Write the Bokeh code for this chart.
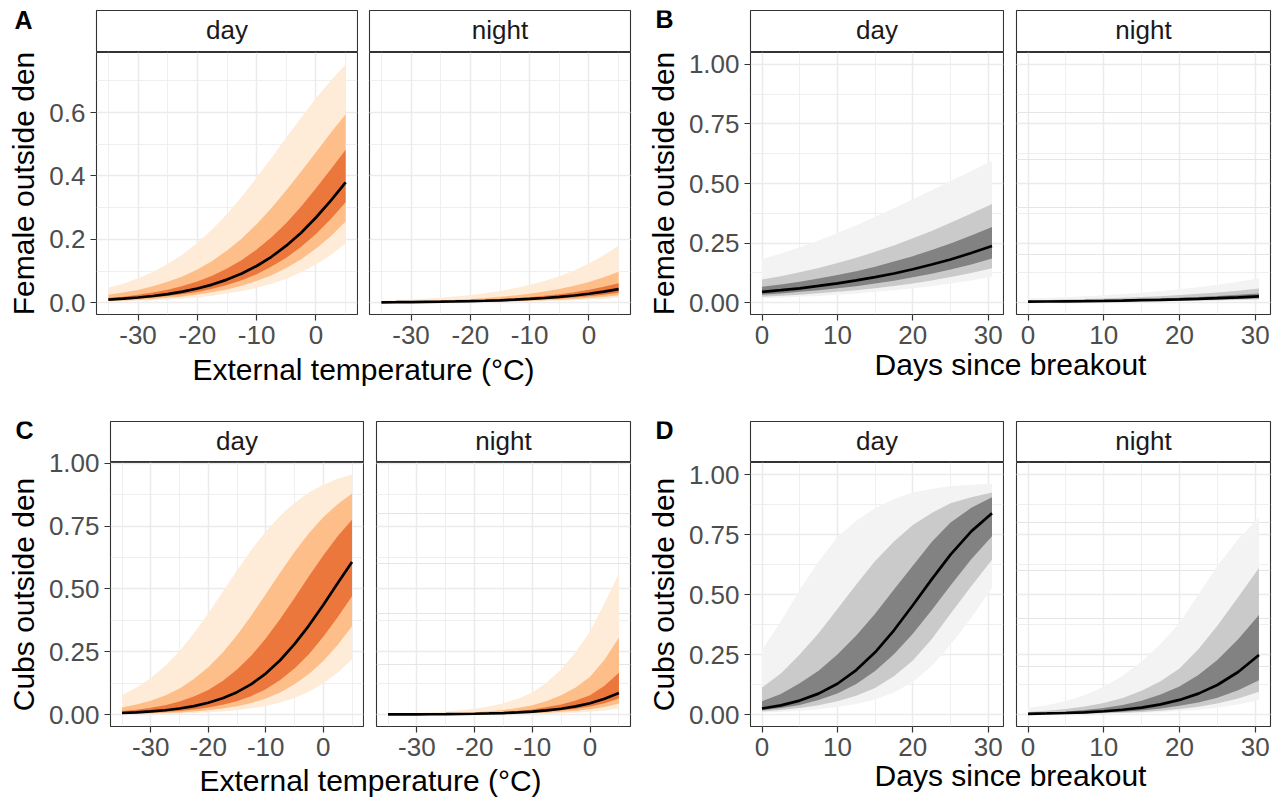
from bokeh.plotting import figure
from bokeh.models import Range1d, FixedTicker, PrintfTickFormatter, Label, Grid
from bokeh.layouts import row, column
from bokeh.embed import file_html
from bokeh.resources import INLINE

# ---------------- data ----------------
temp = [-35, -32.5, -30, -27.5, -25, -22.5, -20, -17.5, -15, -12.5, -10, -7.5, -5, -2.5, 0, 2.5, 5]
days = [0, 2.5, 5, 7.5, 10, 12.5, 15, 17.5, 20, 22.5, 25, 27.75, 30.5]

# Panel A : female, external temperature
A_day_hi95 = [0.047, 0.060, 0.077, 0.097, 0.122, 0.152, 0.189, 0.231, 0.280, 0.335, 0.394, 0.457, 0.521, 0.584, 0.645, 0.701, 0.752]
A_day_hi80 = [0.025, 0.032, 0.040, 0.052, 0.066, 0.083, 0.105, 0.132, 0.165, 0.203, 0.248, 0.299, 0.355, 0.414, 0.475, 0.536, 0.595]
A_day_hi50 = [0.015, 0.019, 0.025, 0.032, 0.041, 0.053, 0.067, 0.085, 0.108, 0.135, 0.168, 0.207, 0.252, 0.304, 0.361, 0.421, 0.483]
A_day_mean = [0.010, 0.0128, 0.0165, 0.0213, 0.027, 0.0351, 0.045, 0.0573, 0.073, 0.0922, 0.116, 0.145, 0.180, 0.221, 0.269, 0.322, 0.380]
A_day_lo50 = [0.0075, 0.0097, 0.0126, 0.0162, 0.021, 0.0267, 0.034, 0.0439, 0.056, 0.0713, 0.090, 0.114, 0.142, 0.177, 0.217, 0.264, 0.317]
A_day_lo80 = [0.0056, 0.0072, 0.0093, 0.012, 0.0155, 0.020, 0.026, 0.033, 0.042, 0.054, 0.069, 0.087, 0.110, 0.137, 0.171, 0.210, 0.256]
A_day_lo95 = [0.0038, 0.0049, 0.0063, 0.0081, 0.0104, 0.0135, 0.017, 0.022, 0.029, 0.037, 0.047, 0.060, 0.076, 0.096, 0.121, 0.151, 0.187]

A_night_hi95 = [0.0067, 0.0083, 0.0103, 0.0128, 0.0158, 0.0196, 0.0243, 0.030, 0.037, 0.0455, 0.056, 0.0686, 0.084, 0.102, 0.124, 0.150, 0.180]
A_night_hi80 = [0.0033, 0.0041, 0.0051, 0.0064, 0.0079, 0.0098, 0.0122, 0.0151, 0.0187, 0.0231, 0.0286, 0.0353, 0.0435, 0.0535, 0.0657, 0.0804, 0.098]
A_night_hi50 = [0.0020, 0.0025, 0.0031, 0.0039, 0.0048, 0.0060, 0.0074, 0.0092, 0.0114, 0.0142, 0.0175, 0.0217, 0.0269, 0.0332, 0.0409, 0.0503, 0.0618]
A_night_mean = [0.0014, 0.0017, 0.0021, 0.0027, 0.0033, 0.0041, 0.0051, 0.0063, 0.0078, 0.0097, 0.0121, 0.0150, 0.0185, 0.0229, 0.0283, 0.0350, 0.0431]
A_night_lo50 = [0.0010, 0.0012, 0.0015, 0.0019, 0.0024, 0.0030, 0.0037, 0.0046, 0.0056, 0.0070, 0.0087, 0.0108, 0.0134, 0.0166, 0.0205, 0.0254, 0.0314]
A_night_lo80 = [0.0007, 0.0009, 0.0011, 0.0014, 0.0017, 0.0021, 0.0027, 0.0033, 0.0041, 0.0051, 0.0063, 0.0079, 0.0098, 0.0121, 0.0150, 0.0186, 0.0230]
A_night_lo95 = [0.0005, 0.0006, 0.0008, 0.0010, 0.0012, 0.0015, 0.0018, 0.0022, 0.0028, 0.0035, 0.0043, 0.0053, 0.0066, 0.0082, 0.0101, 0.0125, 0.0155]

# Panel B : female, days since breakout
B_day_hi95 = [0.182, 0.206, 0.232, 0.261, 0.292, 0.325, 0.360, 0.396, 0.434, 0.472, 0.511, 0.553, 0.595]
B_day_hi80 = [0.097, 0.111, 0.127, 0.145, 0.166, 0.188, 0.213, 0.240, 0.270, 0.301, 0.335, 0.374, 0.414]
B_day_hi50 = [0.066, 0.076, 0.088, 0.101, 0.116, 0.132, 0.151, 0.172, 0.195, 0.221, 0.248, 0.282, 0.317]
B_day_mean = [0.045, 0.052, 0.060, 0.070, 0.081, 0.093, 0.107, 0.122, 0.140, 0.160, 0.181, 0.208, 0.238]
B_day_lo50 = [0.033, 0.038, 0.045, 0.052, 0.060, 0.069, 0.080, 0.092, 0.106, 0.121, 0.139, 0.160, 0.185]
B_day_lo80 = [0.025, 0.029, 0.033, 0.039, 0.045, 0.052, 0.060, 0.070, 0.080, 0.093, 0.107, 0.124, 0.144]
B_day_lo95 = [0.018, 0.021, 0.025, 0.028, 0.033, 0.038, 0.045, 0.052, 0.060, 0.069, 0.080, 0.093, 0.109]

B_night_hi95 = [0.0168, 0.0196, 0.0228, 0.0265, 0.0308, 0.0358, 0.0416, 0.0482, 0.0559, 0.0647, 0.0748, 0.0875, 0.102]
B_night_hi80 = [0.0093, 0.0108, 0.0126, 0.0147, 0.0172, 0.0200, 0.0233, 0.0271, 0.0315, 0.0366, 0.0425, 0.0500, 0.0588]
B_night_hi50 = [0.0059, 0.0069, 0.0081, 0.0094, 0.0110, 0.0128, 0.0150, 0.0175, 0.0203, 0.0236, 0.0275, 0.0325, 0.0383]
B_night_mean = [0.0040, 0.0046, 0.0054, 0.0063, 0.0074, 0.0086, 0.0101, 0.0118, 0.0137, 0.0160, 0.0186, 0.0220, 0.0260]
B_night_lo50 = [0.0028, 0.0033, 0.0038, 0.0044, 0.0052, 0.0061, 0.0071, 0.0083, 0.0097, 0.0113, 0.0132, 0.0156, 0.0185]
B_night_lo80 = [0.0021, 0.0024, 0.0028, 0.0033, 0.0039, 0.0045, 0.0053, 0.0062, 0.0072, 0.0084, 0.0098, 0.0116, 0.0138]
B_night_lo95 = [0.0015, 0.0018, 0.0021, 0.0025, 0.0029, 0.0034, 0.0039, 0.0045, 0.0053, 0.0062, 0.0073, 0.0086, 0.0102]

# Panel C : cubs, external temperature
C_day_hi95 = [0.078, 0.107, 0.145, 0.193, 0.252, 0.323, 0.402, 0.487, 0.573, 0.655, 0.728, 0.791, 0.842, 0.883, 0.914, 0.938, 0.955]
C_day_hi80 = [0.028, 0.040, 0.055, 0.076, 0.104, 0.141, 0.188, 0.246, 0.315, 0.394, 0.479, 0.564, 0.647, 0.721, 0.785, 0.837, 0.879]
C_day_hi50 = [0.0136, 0.019, 0.0267, 0.037, 0.052, 0.072, 0.098, 0.133, 0.179, 0.235, 0.302, 0.380, 0.464, 0.550, 0.633, 0.709, 0.775]
C_day_mean = [0.0061, 0.0087, 0.0122, 0.0171, 0.024, 0.0335, 0.047, 0.0647, 0.089, 0.121, 0.163, 0.216, 0.280, 0.354, 0.436, 0.522, 0.607]
C_day_lo50 = [0.0036, 0.0050, 0.0071, 0.0099, 0.014, 0.0196, 0.0275, 0.0384, 0.053, 0.0737, 0.101, 0.137, 0.183, 0.240, 0.309, 0.387, 0.471]
C_day_lo80 = [0.0022, 0.0031, 0.0043, 0.0061, 0.0085, 0.012, 0.0169, 0.0236, 0.033, 0.046, 0.064, 0.088, 0.120, 0.161, 0.213, 0.277, 0.351]
C_day_lo95 = [0.0011, 0.0016, 0.0022, 0.0032, 0.0045, 0.0063, 0.0089, 0.0125, 0.0175, 0.0246, 0.034, 0.048, 0.066, 0.091, 0.124, 0.166, 0.220]

C_night_hi95 = [0.0035, 0.0048, 0.0065, 0.0088, 0.012, 0.0166, 0.023, 0.0322, 0.045, 0.063, 0.088, 0.127, 0.18, 0.2475, 0.33, 0.443, 0.5625]
C_night_hi80 = [0.0011, 0.0016, 0.0022, 0.0032, 0.0045, 0.0064, 0.009, 0.0127, 0.018, 0.0259, 0.037, 0.0536, 0.077, 0.108, 0.15, 0.218, 0.306]
C_night_hi50 = [0.0007, 0.00095, 0.0013, 0.0018, 0.0025, 0.0035, 0.005, 0.0071, 0.010, 0.0142, 0.020, 0.0297, 0.040, 0.056, 0.077, 0.114, 0.166]
C_night_mean = [0.0004, 0.00053, 0.00075, 0.0011, 0.0015, 0.0021, 0.0030, 0.0042, 0.0059, 0.0083, 0.0117, 0.0165, 0.0231, 0.0323, 0.045, 0.0625, 0.086]
C_night_lo50 = [0.0003, 0.0004, 0.0005, 0.0007, 0.001, 0.0014, 0.002, 0.0028, 0.004, 0.0057, 0.008, 0.0117, 0.017, 0.0233, 0.032, 0.0453, 0.064]
C_night_lo80 = [0.0002, 0.00024, 0.0003, 0.00042, 0.0006, 0.00085, 0.0012, 0.0017, 0.0025, 0.0035, 0.005, 0.0074, 0.011, 0.0152, 0.021, 0.0304, 0.044]
C_night_lo95 = [0.0001, 0.00014, 0.0002, 0.00024, 0.0003, 0.00042, 0.0006, 0.00085, 0.0012, 0.0017, 0.0025, 0.0035, 0.005, 0.0074, 0.011, 0.0162, 0.024]

# Panel D : cubs, days since breakout
D_day_hi95 = [0.27, 0.388, 0.52, 0.637, 0.74, 0.807, 0.86, 0.897, 0.925, 0.940, 0.952, 0.957, 0.962]
D_day_hi80 = [0.113, 0.171, 0.25, 0.339, 0.44, 0.542, 0.64, 0.721, 0.79, 0.840, 0.88, 0.905, 0.925]
D_day_hi50 = [0.055, 0.085, 0.13, 0.182, 0.25, 0.329, 0.42, 0.521, 0.62, 0.719, 0.80, 0.861, 0.905]
D_day_mean = [0.025, 0.038, 0.058, 0.087, 0.128, 0.185, 0.259, 0.351, 0.455, 0.563, 0.666, 0.763, 0.8385]
D_day_lo50 = [0.018, 0.027, 0.040, 0.060, 0.088, 0.127, 0.181, 0.251, 0.336, 0.434, 0.537, 0.647, 0.743]
D_day_lo80 = [0.013, 0.019, 0.027, 0.039, 0.055, 0.078, 0.11, 0.159, 0.225, 0.314, 0.42, 0.534, 0.645]
D_day_lo95 = [0.008, 0.011, 0.016, 0.022, 0.031, 0.044, 0.062, 0.092, 0.135, 0.202, 0.29, 0.403, 0.527]

D_night_hi95 = [0.0269, 0.039, 0.0566, 0.081, 0.1153, 0.161, 0.2205, 0.294, 0.380, 0.50, 0.619, 0.731, 0.819]
D_night_hi80 = [0.0106, 0.0155, 0.0227, 0.033, 0.048, 0.069, 0.0986, 0.139, 0.192, 0.272, 0.370, 0.489, 0.610]
D_night_hi50 = [0.0059, 0.0087, 0.0128, 0.0188, 0.0274, 0.040, 0.0577, 0.083, 0.117, 0.165, 0.227, 0.314, 0.415]
D_night_mean = [0.0029, 0.0043, 0.0063, 0.0092, 0.0136, 0.0198, 0.0289, 0.0421, 0.0608, 0.087, 0.123, 0.177, 0.248]
D_night_lo50 = [0.0017, 0.0025, 0.0036, 0.0054, 0.0079, 0.0115, 0.0169, 0.0247, 0.036, 0.050, 0.070, 0.101, 0.143]
D_night_lo80 = [0.0011, 0.0016, 0.0023, 0.0034, 0.0050, 0.0074, 0.0108, 0.0159, 0.0232, 0.0328, 0.046, 0.0665, 0.0953]
D_night_lo95 = [0.00065, 0.00096, 0.0014, 0.0021, 0.0031, 0.0045, 0.0066, 0.0097, 0.0142, 0.0201, 0.0284, 0.0414, 0.0601]

facet_labels = ["day", "night"]
panel_letters = ["A", "B", "C", "D"]
y_titles = ["Female outside den", "Female outside den", "Cubs outside den", "Cubs outside den"]
x_titles = ["External temperature (°C)", "Days since breakout",
            "External temperature (°C)", "Days since breakout"]

temp_ticks = [-30, -20, -10, 0]
temp_minor = [-35, -25, -15, -5, 5]
day_ticks = [0, 10, 20, 30]
day_minor = [5, 15, 25]
A_yticks = [0.0, 0.2, 0.4, 0.6]
A_yminor = [0.1, 0.3, 0.5, 0.7]
P_yticks = [0.0, 0.25, 0.5, 0.75, 1.0]
P_yminor = [0.125, 0.375, 0.625, 0.875]
unit_limits = [0.0, 1.0]

# ---------------- style ----------------
FONT = "Liberation Sans"
BORDER = "#333333"
GRID = "#EBEBEB"
ORANGES = ("#FEEBD8", "#FDBE89", "#EB773D")
GREYS = ("#F3F3F3", "#CACACA", "#828282")
TICK_PX = 26
TITLE_PX = 30
LETTER_PX = 25
SHIFT = 0.42   # label reference point above baseline (em)
OVERLAP = 16   # title strip pulled up over the tick-label band
HEADROOM = 18  # panel canvas extends up under the strip so top tick labels fit


def padded(lo, hi):
    d = (hi - lo) * 0.05
    return (lo - d, hi + d)


def bands(prefix):
    g = globals()
    return [g[prefix + s] for s in ("_lo95", "_lo80", "_lo50", "_mean", "_hi50", "_hi80", "_hi95")]


def blank_fig(width, height, lb, rb, top, bottom, outline, transparent=False):
    f = figure(width=width, height=height, x_range=Range1d(0, 1), y_range=Range1d(0, 1),
               title=None, toolbar_location=None, output_backend="svg",
               x_axis_location=None, y_axis_location=None,
               min_border_left=lb, min_border_right=rb, min_border_top=top, min_border_bottom=bottom)
    f.grid.visible = False
    if transparent:
        f.background_fill_color = None
        f.border_fill_color = None
    else:
        f.background_fill_color = "white"
        f.border_fill_color = "white"
    f.outline_line_color = BORDER if outline else None
    f.outline_line_width = 1.1
    return f


def panel_fig(xs, series, colors, xr, yr, fw, fh, lb, rb, bb, xt, xm, yt, ym, yfmt, ylabel):
    lo95, lo80, lo50, mid, hi50, hi80, hi95 = series
    p = figure(width=lb + fw + rb, height=HEADROOM + fh + bb, x_range=Range1d(*xr), y_range=Range1d(*yr),
               title=None, toolbar_location=None, output_backend="svg",
               y_axis_location="left" if ylabel else None,
               min_border_left=lb, min_border_right=rb, min_border_top=HEADROOM, min_border_bottom=bb)
    p.background_fill_color = "white"
    p.border_fill_color = None
    p.outline_line_color = BORDER
    p.outline_line_width = 1.1
    p.varea(x=xs, y1=lo95, y2=hi95, fill_color=colors[0])
    p.varea(x=xs, y1=lo80, y2=hi80, fill_color=colors[1])
    p.varea(x=xs, y1=lo50, y2=hi50, fill_color=colors[2])
    p.line(x=xs, y=mid, line_color="black", line_width=2.7)

    ax = p.xaxis[0]
    ax.ticker = FixedTicker(ticks=xt, minor_ticks=xm)
    ax.formatter = PrintfTickFormatter(format="%d")
    ax.axis_line_color = None
    ax.major_tick_line_color = BORDER
    ax.major_tick_line_width = 1.2
    ax.major_tick_in = 0
    ax.major_tick_out = 6
    ax.minor_tick_line_color = None
    ax.major_label_text_font = FONT
    ax.major_label_text_font_size = f"{TICK_PX}px"
    ax.major_label_text_color = "#4D4D4D"
    ax.major_label_standoff = 5
    xg = p.xgrid[0]
    xg.grid_line_color = GRID
    xg.grid_line_width = 1.5
    xg.minor_grid_line_color = GRID
    xg.minor_grid_line_width = 0.8

    if ylabel:
        ay = p.yaxis[0]
        ay.ticker = FixedTicker(ticks=yt, minor_ticks=ym)
        ay.formatter = PrintfTickFormatter(format=yfmt)
        ay.axis_line_color = None
        ay.major_tick_line_color = BORDER
        ay.major_tick_line_width = 1.2
        ay.major_tick_in = 0
        ay.major_tick_out = 6
        ay.minor_tick_line_color = None
        ay.major_label_text_font = FONT
        ay.major_label_text_font_size = f"{TICK_PX}px"
        ay.major_label_text_color = "#4D4D4D"
        ay.major_label_standoff = 5
        ay.axis_label = ylabel
        ay.axis_label_text_font = FONT
        ay.axis_label_text_font_size = f"{TITLE_PX}px"
        ay.axis_label_text_font_style = "normal"
        ay.axis_label_text_color = "black"
        ay.axis_label_standoff = 6
        yg = p.ygrid[0]
    else:
        yg = Grid(dimension=1, ticker=FixedTicker(ticks=yt, minor_ticks=ym))
        p.add_layout(yg)
    yg.grid_line_color = GRID
    yg.grid_line_width = 1.5
    yg.minor_grid_line_color = GRID
    yg.minor_grid_line_width = 0.8
    return p


def strip_fig(text, fw, lb, rb, top, fh, base_from_bottom):
    s = blank_fig(lb + fw + rb, top + fh + 1, lb, rb, top, 1, True)
    s.add_layout(Label(x=0.5, y=base_from_bottom + SHIFT * TICK_PX, x_units="data", y_units="screen",
                       text=text, text_align="center", text_baseline="alphabetic", text_font=FONT,
                       text_font_size=f"{TICK_PX}px", text_color="#1A1A1A"))
    return s


def letter_fig(letter, width, height, x_left, base_from_bottom):
    f = blank_fig(width, height, 0, 0, 0, 0, False)
    f.add_layout(Label(x=x_left, y=base_from_bottom + SHIFT * LETTER_PX, x_units="screen", y_units="screen",
                       text=letter, text_align="left", text_baseline="alphabetic", text_font=FONT,
                       text_font_size=f"{LETTER_PX}px", text_font_style="bold", text_color="black"))
    return f


def title_fig(text, width, lb, rb, height, base_from_bottom):
    t = blank_fig(width, height + OVERLAP, lb, rb, 0, 0, False, transparent=True)
    t.margin = (-OVERLAP, 0, 0, 0)
    t.add_layout(Label(x=0.5, y=base_from_bottom + SHIFT * TITLE_PX, x_units="data", y_units="screen",
                       text=text, text_align="center", text_baseline="alphabetic", text_font=FONT,
                       text_font_size=f"{TITLE_PX}px", text_color="black"))
    return t


LETTER_W = 90


def block(idx, xs, xt, xm, yt, ym, yfmt, yr, colors, day_lb, day_fw, night_lb, night_fw, night_rb,
          strip_top, strip_h, strip_base, panel_h, panel_bb, title_h, title_base, letter_x, letter_base):
    key = panel_letters[idx]
    xr = padded(min(xs), max(xs))
    d = panel_fig(xs, bands(key + "_day"), colors, xr, yr, day_fw, panel_h, day_lb, 1, panel_bb,
                  xt, xm, yt, ym, yfmt, y_titles[idx])
    n = panel_fig(xs, bands(key + "_night"), colors, xr, yr, night_fw, panel_h, night_lb, night_rb,
                  panel_bb, xt, xm, yt, ym, yfmt, None)
    lf = letter_fig(key, LETTER_W, strip_top + strip_h + 1, letter_x, letter_base)
    sd = strip_fig(facet_labels[0], day_fw, day_lb - LETTER_W, 1, strip_top, strip_h, strip_base)
    sn = strip_fig(facet_labels[1], night_fw, night_lb, night_rb, strip_top, strip_h, strip_base)
    total_w = day_lb + day_fw + 1 + night_lb + night_fw + night_rb
    t = title_fig(x_titles[idx], total_w, day_lb, night_rb, title_h, title_base)
    panels = row(d, n)
    panels.margin = (-HEADROOM, 0, 0, 0)
    return column(row(lf, sd, sn), panels, t)


def yrange_of(prefix_list):
    vals = []
    for pre in prefix_list:
        for arr in bands(pre):
            vals.extend(arr)
    return padded(min(vals), max(vals))


A_yr = yrange_of(["A_day", "A_night"])
C_yr = yrange_of(["C_day", "C_night"])
U_yr = padded(*unit_limits)

# row 1: strip 10..51, panel 52..314, axis to 356, title 356..410
blkA = block(0, temp, temp_ticks, temp_minor, A_yticks, A_yminor, "%.1f", A_yr, ORANGES,
             96, 261, 11, 261, 10, 10, 41, 11, 262, 42, 54, 28, 14, 21)
blkB = block(1, days, day_ticks, day_minor, P_yticks, P_yminor, "%.2f", U_yr, GREYS,
             110, 253, 12, 254, 8, 10, 41, 11, 262, 42, 54, 33, 15, 22)
# row 2: strip 421..461, panel 462..726, axis to 768, title 768..801
blkC = block(2, temp, temp_ticks, temp_minor, P_yticks, P_yminor, "%.2f", C_yr, ORANGES,
             110, 253, 12, 254, 10, 11, 40, 10, 264, 42, 33, 8, 15, 21)
blkD = block(3, days, day_ticks, day_minor, P_yticks, P_yminor, "%.2f", U_yr, GREYS,
             110, 253, 12, 254, 8, 11, 40, 10, 264, 42, 33, 13, 15, 21)

page = column(row(blkA, blkB), row(blkC, blkD))

open("out.html", "w").write(file_html(page, INLINE))
